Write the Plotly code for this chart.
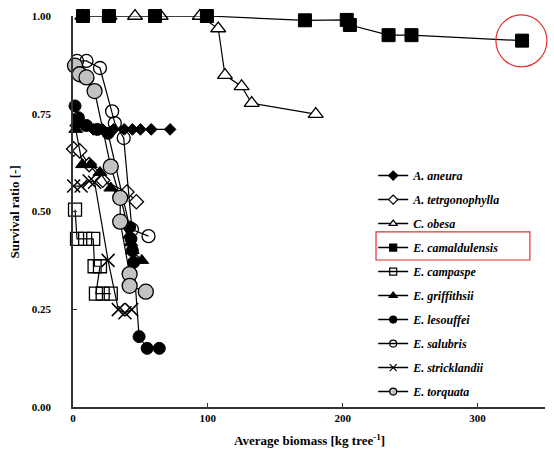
import plotly.graph_objects as go

# ---- data ----
aneura_x = [2, 8, 15, 22, 30, 38, 44, 50, 58, 72]
aneura_y = [0.72, 0.72, 0.71, 0.71, 0.71, 0.71, 0.71, 0.71, 0.71, 0.71]

tetr_x = [0.5, 5, 12, 22, 40, 47]
tetr_y = [0.66, 0.655, 0.62, 0.58, 0.55, 0.525]

obesa_x = [7, 27, 46, 65, 94, 107.7, 112.7, 125, 132.5, 180]
obesa_y = [1.0, 1.0, 1.0, 1.0, 1.0, 0.968, 0.849, 0.82, 0.777, 0.749]

camal_x = [7.4, 26.7, 60.8, 99.3, 172, 203, 205.3, 234, 251, 333]
camal_y = [1.0, 1.0, 1.0, 1.0, 0.989, 0.99, 0.977, 0.951, 0.951, 0.937]

campaspe_x = [1.5, 3, 9, 15, 16, 20, 17, 22, 28]
campaspe_y = [0.505, 0.43, 0.43, 0.43, 0.36, 0.36, 0.29, 0.29, 0.29]

griff_x = [2, 7, 13, 20, 28, 35, 42, 43, 44, 51]
griff_y = [0.71, 0.62, 0.62, 0.60, 0.56, 0.54, 0.44, 0.42, 0.40, 0.375]

lesou_x = [1.5, 4, 10, 18, 26, 42, 43, 44, 45, 49, 55, 64]
lesou_y = [0.77, 0.74, 0.72, 0.71, 0.70, 0.46, 0.43, 0.40, 0.37, 0.18, 0.15, 0.15]

salub_x = [3, 10, 20, 29, 31, 37.6, 43.7, 56]
salub_y = [0.885, 0.885, 0.867, 0.756, 0.726, 0.688, 0.454, 0.437]

strick_x = [0.5, 6, 12, 16, 26, 33.6, 38.5, 43.5]
strick_y = [0.565, 0.565, 0.578, 0.575, 0.375, 0.249, 0.241, 0.249]

torq_x = [1.5, 5, 10, 16, 28, 35, 35, 42, 42, 54]
torq_y = [0.873, 0.851, 0.843, 0.808, 0.615, 0.535, 0.474, 0.34, 0.31, 0.295]

names = ["A. aneura", "A. tetrgonophylla", "C. obesa", "E. camaldulensis",
         "E. campaspe", "E. griffithsii", "E. lesouffei", "E. salubris",
         "E. stricklandii", "E. torquata"]

x_ticks = [0, 100, 200, 300]
y_ticks = [0, 0.25, 0.5, 0.75, 1.0]
y_tick_text = ["0.00", "0.25", "0.50", "0.75", "1.00"]

xs = [aneura_x, tetr_x, obesa_x, camal_x, campaspe_x, griff_x, lesou_x, salub_x, strick_x, torq_x]
ys = [aneura_y, tetr_y, obesa_y, camal_y, campaspe_y, griff_y, lesou_y, salub_y, strick_y, torq_y]

styles = [
    dict(symbol="diamond", size=9, color="black", lc="black", lw=1),
    dict(symbol="diamond", size=11, color="white", lc="black", lw=1.3),
    dict(symbol="triangle-up", size=13, color="white", lc="black", lw=1.3),
    dict(symbol="square", size=13, color="black", lc="black", lw=1),
    dict(symbol="square-open", size=13, color="black", lc="black", lw=1.3),
    dict(symbol="triangle-up", size=12, color="black", lc="black", lw=1),
    dict(symbol="circle", size=12, color="black", lc="black", lw=1),
    dict(symbol="circle-open", size=13, color="black", lc="black", lw=1.3),
    dict(symbol="x-thin", size=13, color="black", lc="black", lw=1.5),
    dict(symbol="circle", size=15, color="#c2c2c2", lc="black", lw=1.3),
]

fig = go.Figure()
for n, x, y, s in zip(names, xs, ys, styles):
    fig.add_trace(go.Scatter(
        x=x, y=y, name=n, mode="lines+markers", showlegend=False, legendgroup=n,
        line=dict(color="black", width=1.2),
        marker=dict(symbol=s["symbol"], size=s["size"], color=s["color"],
                    line=dict(color=s["lc"], width=s["lw"])),
        cliponaxis=False,
    ))
# legend entries with small symbols, as in the reference key
for n, s in zip(names, styles):
    fig.add_trace(go.Scatter(
        x=[None], y=[None], name=n, mode="lines+markers", legendgroup=n,
        line=dict(color="black", width=1.5),
        marker=dict(symbol=s["symbol"], size=7, color=s["color"],
                    line=dict(color=s["lc"], width=1.2)),
    ))

serif = "Liberation Serif"
fig.update_layout(
    width=554, height=453,
    margin=dict(l=73, r=9, t=16, b=46),
    paper_bgcolor="white", plot_bgcolor="white",
    font=dict(family=serif, size=11, color="black"),
    showlegend=True,
    legend=dict(
        x=0.636, y=0.629, xanchor="left", yanchor="top",
        font=dict(family=serif, size=12, style="italic", weight="bold"),
        tracegroupgap=5, itemwidth=30, bgcolor="rgba(0,0,0,0)",
    ),
    xaxis=dict(
        range=[0, 350], tickvals=x_ticks, ticktext=[str(v) for v in x_ticks],
        showgrid=False, zeroline=False, showline=True, linecolor="#333", linewidth=1.5,
        ticks="inside", ticklen=4, tickcolor="#333", automargin=False,
        tickfont=dict(family=serif, size=11, weight="bold"),
        ticklabelstandoff=0,
    ),
    yaxis=dict(
        range=[0, 1], tickvals=y_ticks, ticktext=y_tick_text,
        showgrid=False, zeroline=False, showline=True, linecolor="#333", linewidth=1.5,
        ticks="inside", ticklen=4, tickcolor="#333", automargin=False,
        tickfont=dict(family=serif, size=11, weight="bold"),
        ticklabelstandoff=18,
    ),
    annotations=[
        dict(text="<b>Average biomass [kg tree<sup>-1</sup>]</b>", xref="paper", yref="paper",
             x=0.50, y=-0.084, xanchor="center", yanchor="middle", showarrow=False,
             font=dict(family=serif, size=13)),
        dict(text="<b>Survival ratio [-]</b>", xref="paper", yref="paper",
             x=-0.123, y=0.5, xanchor="center", yanchor="middle", showarrow=False,
             textangle=-90, font=dict(family=serif, size=13)),
    ],
    shapes=[
        dict(type="circle", xref="paper", yref="paper", x0=0.896, x1=1.004, y0=0.870, y1=1.003,
             line=dict(color="#e03030", width=1.2)),
        dict(type="rect", xref="paper", yref="paper", x0=0.642, x1=0.968, y0=0.376, y1=0.448,
             line=dict(color="#e03030", width=1.2)),
    ],
)

fig.write_html("out.html", config={"displayModeBar": False},
               post_script="document.body.style.margin='0';")
